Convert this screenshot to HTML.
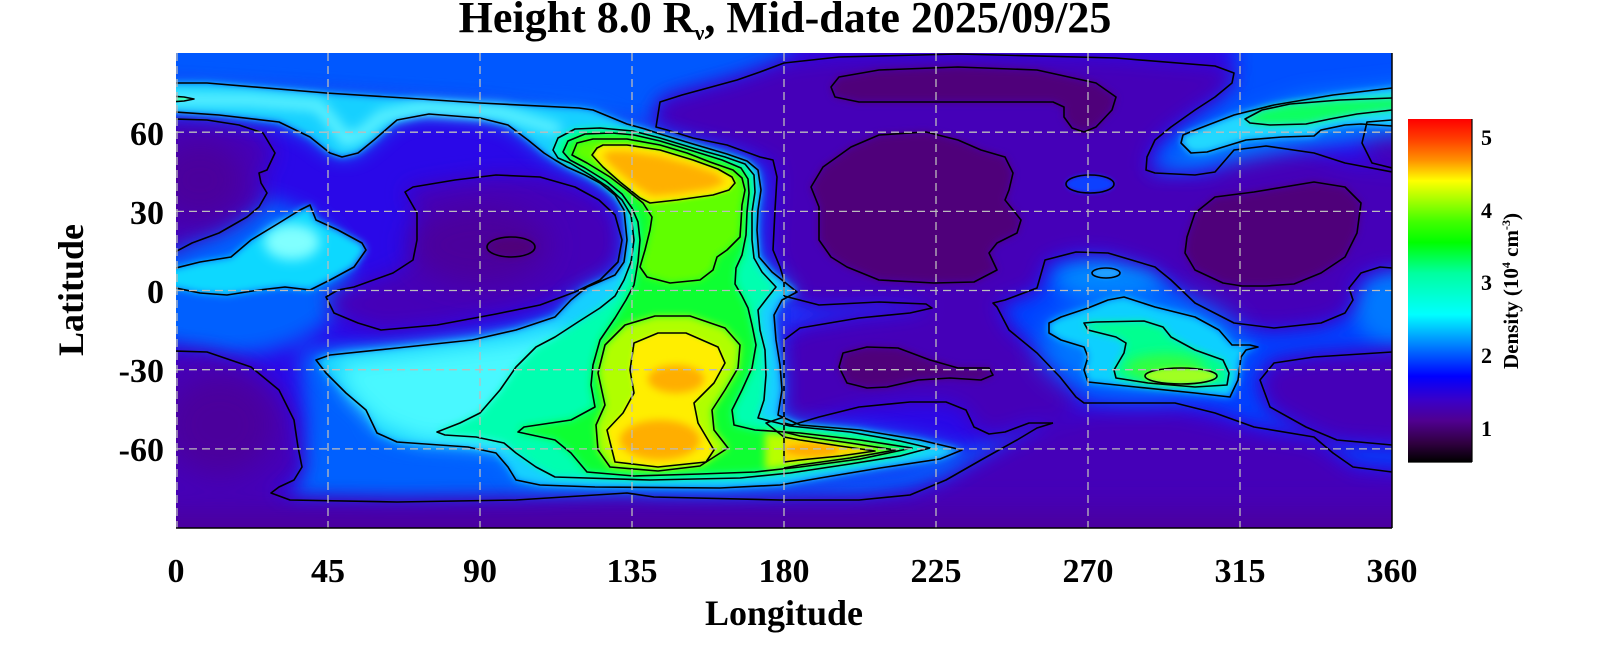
<!DOCTYPE html>
<html><head><meta charset="utf-8"><style>
html,body{margin:0;padding:0;background:#fff;}
svg{display:block;}
text{font-family:"Liberation Serif","DejaVu Serif",serif;font-weight:bold;fill:#000;}
</style></head><body>
<svg width="1600" height="660" viewBox="0 0 1600 660" xmlns="http://www.w3.org/2000/svg">
<defs>
<clipPath id="cp"><rect x="176" y="53" width="1216" height="475"/></clipPath>
<filter id="b2" filterUnits="userSpaceOnUse" x="0" y="0" width="1600" height="660"><feGaussianBlur stdDeviation="2"/></filter>
<filter id="b4" filterUnits="userSpaceOnUse" x="0" y="0" width="1600" height="660"><feGaussianBlur stdDeviation="4"/></filter>
<filter id="b6" filterUnits="userSpaceOnUse" x="0" y="0" width="1600" height="660"><feGaussianBlur stdDeviation="6"/></filter>
<filter id="b10" filterUnits="userSpaceOnUse" x="0" y="0" width="1600" height="660"><feGaussianBlur stdDeviation="10"/></filter>
<filter id="b14" filterUnits="userSpaceOnUse" x="0" y="0" width="1600" height="660"><feGaussianBlur stdDeviation="14"/></filter>
<linearGradient id="cb" x1="0" y1="0" x2="0" y2="1">
<stop offset="0" stop-color="#ff0000"/>
<stop offset="0.06" stop-color="#ff4000"/>
<stop offset="0.12" stop-color="#ff9000"/>
<stop offset="0.18" stop-color="#ffff00"/>
<stop offset="0.24" stop-color="#a0ff00"/>
<stop offset="0.30" stop-color="#40ff00"/>
<stop offset="0.36" stop-color="#00ff00"/>
<stop offset="0.45" stop-color="#00ffa0"/>
<stop offset="0.57" stop-color="#00ffff"/>
<stop offset="0.66" stop-color="#0080ff"/>
<stop offset="0.75" stop-color="#0000ff"/>
<stop offset="0.82" stop-color="#3a00c8"/>
<stop offset="0.88" stop-color="#500090"/>
<stop offset="0.945" stop-color="#300040"/>
<stop offset="1" stop-color="#000000"/>
</linearGradient>
</defs>

<!-- Title -->
<text x="785" y="32" text-anchor="middle" font-size="44">Height 8.0 R<tspan font-size="22" dy="8">ν</tspan><tspan dy="-8">, Mid-date 2025/09/25</tspan></text>

<g clip-path="url(#cp)">
<rect x="176" y="53" width="1216" height="475" fill="#2a08e8"/>

<!-- light blue zones -->
<g filter="url(#b10)">
<polygon fill="#0058ff" points="150,30 800,30 784,63 760,72 737,80 682,95 660,102 656,127 600,118 480,103 326,93 176,83 150,83"/>
<ellipse cx="230" cy="275" rx="120" ry="80" fill="#0060ff"/>
<polygon fill="#0060ff" points="300,350 420,350 600,330 640,480 780,488 900,470 1000,440 1053,423 1000,455 946,485 860,503 780,503 400,505 290,502 300,470 305,420"/>
<polygon fill="#0040ff" points="1037,288 1045,260 1076,252 1108,253 1155,267 1179,282 1195,303 1234,323 1274,328 1321,323 1345,313 1353,300 1361,280 1420,268 1420,350 1314,357 1274,363 1260,380 1270,407 1306,427 1337,440 1420,445 1420,472 1353,467 1333,453 1314,437 1254,427 1215,413 1175,403 1084,403 1076,397 1060,377 1037,353 1009,330 997,307 1005,300"/>
<ellipse cx="1400" cy="305" rx="45" ry="40" fill="#0078ff"/>
<ellipse cx="1110" cy="278" rx="55" ry="20" fill="#0088ff"/>
<polygon fill="#0050ff" points="1234,30 1420,30 1420,125 1340,128 1260,140 1200,160 1160,172 1150,160 1171,127 1215,97 1234,73"/>
<polygon fill="#1838ff" points="784,295 819,305 879,302 926,304 932,308 910,313 859,318 800,328 784,340"/>
</g>

<!-- purple zones -->
<g filter="url(#b10)" fill="#4400b8">
<polygon points="150,119 175,119 207,120 239,125 263,133 275,153 267,170 259,173 261,183 267,193 259,207 247,217 219,233 192,243 175,252 150,252"/>
<polygon points="405,192 413,187 455,180 496,175 540,177 575,187 599,200 615,215 622,240 618,262 600,280 575,292 540,305 496,314 437,325 381,330 358,323 334,313 326,297 338,290 354,287 393,273 413,260 417,240 417,213"/>
<polygon points="656,127 660,102 682,95 737,80 760,72 784,63 839,57 958,54 1116,58 1215,66 1234,73 1232,83 1215,97 1195,110 1171,127 1155,140 1147,157 1146,170 1155,173 1195,175 1215,172 1234,150 1266,146 1314,153 1345,163 1392,172 1420,172 1420,268 1380,267 1361,273 1349,288 1353,300 1345,313 1321,323 1274,328 1234,323 1195,303 1171,280 1155,267 1108,253 1076,252 1045,260 1037,288 1005,300 993,303 997,307 1009,330 1037,353 1060,377 1076,397 1084,403 1053,423 1029,423 1005,432 989,434 974,427 966,410 946,402 910,402 859,407 819,417 792,425 784,423 784,340 800,328 859,318 910,313 932,308 926,304 879,302 819,305 784,296 780,267 773,250 775,210 777,177 773,160 760,157 727,145 693,138 667,130"/>
<polygon points="1392,120 1367,122 1362,143 1372,163 1392,168 1420,168 1420,120"/>
<polygon points="150,351 175,351 207,352 251,367 279,390 294,420 298,447 302,467 294,480 279,487 271,493 290,500 397,502 516,500 627,493 654,497 780,500 859,500 910,495 946,480 981,460 1017,440 1053,425 1090,412 1175,412 1215,420 1254,432 1314,442 1353,470 1420,475 1420,560 150,560"/>
<polygon points="1420,350 1314,357 1274,363 1260,380 1270,407 1306,427 1337,440 1420,445"/>
</g>
<g filter="url(#b14)" fill="#4c009c">
<ellipse cx="200" cy="180" rx="45" ry="40"/>
<ellipse cx="220" cy="425" rx="55" ry="50"/>
<ellipse cx="480" cy="245" rx="70" ry="40"/>
<rect x="150" y="512" width="1300" height="40"/>
</g>

<!-- dark purple -->
<g filter="url(#b4)" fill="#50007a">
<polygon points="831,87 839,77 879,70 958,67 1037,70 1096,83 1116,97 1112,110 1096,127 1084,132 1072,128 1064,117 1064,107 1053,102 997,102 938,102 859,102 835,97"/>
<polygon points="811,187 823,167 851,147 879,135 926,132 958,140 981,150 1005,157 1013,173 1009,190 1005,200 1021,220 1017,233 997,243 989,253 997,270 974,282 934,283 879,280 847,267 831,257 819,240 819,207"/>
<polygon points="1195,213 1215,197 1254,192 1314,182 1345,187 1361,203 1357,233 1345,257 1321,273 1294,284 1266,286 1242,286 1223,283 1195,270 1185,253 1187,237"/>
<polygon points="839,367 843,353 867,347 898,348 930,360 958,368 989,368 993,375 981,380 950,378 918,380 887,387 867,388 847,383"/>
<ellipse cx="511" cy="247" rx="24" ry="10"/>
</g>
<ellipse cx="1090" cy="184" rx="24" ry="9" fill="#1040ff" filter="url(#b2)"/>

<!-- bright regions -->
<polygon fill="#0080ff" opacity="0.9" filter="url(#b10)" points="150,83 176,83 207,83 326,93 420,99 480,103 579,108 593,110 610,117 627,124 645,129 660,134 693,144 727,154 747,161 758,170 761,190 758,210 757,230 759,257 772,272 797,292 782,300 774,315 776,340 780,365 782,390 778,415 800,425 860,430 920,440 962,450 940,459 880,468 820,478 780,485 720,488 595,487 540,485 516,480 508,467 496,453 468,447 397,442 377,433 366,410 346,393 326,373 316,360 330,355 397,348 472,340 516,330 555,317 571,300 587,287 599,282 615,275 624,262 627,240 624,210 615,195 600,183 585,175 567,167 555,160 544,153 528,140 508,125 480,118 429,114 397,120 374,140 358,153 342,157 330,153 310,137 279,122 219,115 175,112 150,112"/>
<polygon fill="#18d0ff" filter="url(#b4)" points="150,83 176,83 207,83 326,93 420,99 480,103 579,108 593,110 610,117 627,124 645,129 660,134 693,144 727,154 747,161 758,170 761,190 758,210 757,230 759,257 772,272 797,292 782,300 774,315 776,340 780,365 782,390 778,415 800,425 860,430 920,440 962,450 940,459 880,468 820,478 780,485 720,488 595,487 540,485 516,480 508,467 496,453 468,447 397,442 377,433 366,410 346,393 326,373 316,360 330,355 397,348 472,340 516,330 555,317 571,300 587,287 599,282 615,275 624,262 627,240 624,210 615,195 600,183 585,175 567,167 555,160 544,153 528,140 508,125 480,118 429,114 397,120 374,140 358,153 342,157 330,153 310,137 279,122 219,115 175,112 150,112"/>
<polyline fill="none" stroke="#60f4ff" stroke-width="12" filter="url(#b6)" points="150,99 250,100 318,105 335,125 346,140 362,134 382,116 420,108 500,112 560,130"/>
<polygon fill="#48f8ff" filter="url(#b10)" points="335,362 420,352 520,340 565,330 575,370 560,420 510,445 420,440 380,425 350,395"/>

<polygon fill="#00ffb0" filter="url(#b4)" points="553,150 558,138 575,129 600,128 633,131 660,138 693,148 725,157 745,164 754,175 755,192 752,212 752,240 754,258 762,272 776,287 768,297 758,310 760,330 765,350 766,375 764,400 758,418 790,426 850,432 900,441 930,448 900,456 850,464 790,473 740,478 650,480 555,477 536,467 516,453 504,443 476,437 445,435 437,432 460,423 480,413 500,390 516,367 536,347 555,337 578,322 600,308 615,296 624,280 631,262 634,240 631,215 622,200 608,187 590,175 570,163 558,158"/>
<polygon fill="#10ff30" filter="url(#b4)" points="563,152 568,141 585,134 612,133 634,135 660,141 693,151 722,160 741,168 748,179 749,193 747,212 746,235 742,255 736,268 735,284 742,296 748,308 752,325 756,345 752,368 742,390 732,410 734,425 755,430 800,433 860,440 912,448 860,459 800,467 755,472 700,474 634,476 587,472 571,453 555,440 518,432 524,427 571,420 595,407 591,385 593,365 600,340 615,318 626,300 634,285 638,262 640,240 638,222 632,208 622,194 606,181 585,168 570,160"/>
<polygon fill="#60ff00" filter="url(#b4)" points="572,155 577,143 593,139 627,139 660,145 687,153 710,162 733,170 742,178 745,190 742,205 741,222 740,237 727,250 717,257 713,270 700,280 670,283 647,277 640,267 645,250 650,230 652,217 643,203 627,190 610,177 587,163"/>
<polygon fill="#b0ff00" filter="url(#b4)" points="598,373 605,345 625,325 655,316 690,316 725,328 740,345 738,368 725,390 712,410 714,430 728,448 700,466 658,471 610,467 598,450 596,425 605,405"/>
<polygon fill="#b8ff00" filter="url(#b4)" points="765,432 800,436 850,443 895,450 850,458 800,465 765,470"/>
<polygon fill="#ffee00" filter="url(#b2)" points="592,155 597,148 603,145 627,145 660,150 693,160 718,169 732,177 735,183 729,190 713,195 677,200 650,203 640,198 620,182 603,167"/>
<polygon fill="#ffb000" filter="url(#b4)" points="602,156 609,151 627,151 660,156 693,165 716,173 726,182 710,189 677,194 652,196 638,188 616,170"/>
<polygon fill="#ffee00" filter="url(#b2)" points="630,370 634,343 658,333 686,333 718,347 725,363 714,383 694,403 698,423 714,450 706,462 658,467 615,462 607,430 623,413 634,393"/>
<ellipse cx="676" cy="379" rx="28" ry="14" fill="#ffae00" filter="url(#b4)"/>
<ellipse cx="660" cy="440" rx="40" ry="20" fill="#ffae00" filter="url(#b4)"/>
<polygon fill="#ffd000" filter="url(#b2)" points="784,437 800,440 840,446 875,451 840,456 800,460 784,462"/>
<ellipse cx="812" cy="450" rx="26" ry="6" fill="#ffae00" filter="url(#b2)"/>

<!-- left cyan blob -->
<polygon fill="#10d8ff" filter="url(#b4)" points="150,268 176,268 200,262 231,257 251,240 279,223 300,210 310,205 316,220 338,230 362,243 366,250 354,267 330,280 310,290 285,287 259,290 227,295 200,293 176,288 150,288"/>
<ellipse cx="292" cy="242" rx="28" ry="18" fill="#80ffff" filter="url(#b6)"/>
<polygon fill="#40ffc0" points="170,96 184,97 194,99 184,101 170,102"/>

<!-- right green blob -->
<ellipse cx="1140" cy="345" rx="100" ry="50" fill="#0078ff" filter="url(#b14)"/>
<polygon fill="#10d0ff" filter="url(#b4)" points="1049,323 1061,317 1088,308 1108,300 1124,297 1155,307 1195,317 1219,330 1232,345 1250,345 1258,347 1246,350 1241,357 1238,380 1230,397 1195,393 1136,387 1088,382 1084,370 1088,357 1084,347 1061,340 1049,333"/>
<polygon fill="#00ff90" filter="url(#b4)" points="1084,323 1096,322 1144,321 1163,327 1171,337 1195,350 1223,360 1229,373 1227,385 1195,387 1148,383 1116,378 1114,370 1124,353 1126,343 1116,337 1088,330"/>
<ellipse cx="1165" cy="368" rx="40" ry="14" fill="#30ff40" filter="url(#b6)"/>
<ellipse cx="1181" cy="376" rx="36" ry="8" fill="#a0ff20" filter="url(#b2)"/>
<ellipse cx="1106" cy="273" rx="14" ry="5" fill="#20a0ff" filter="url(#b2)"/>

<!-- upper right streak -->
<polygon fill="#0078ff" filter="url(#b10)" points="1150,170 1224,122 1300,95 1420,82 1420,132 1300,148 1200,168"/>
<polygon fill="#20d8ff" filter="url(#b4)" points="1181,143 1183,135 1195,130 1234,115 1274,105 1333,95 1392,88 1420,88 1420,126 1392,126 1361,124 1345,125 1321,130 1314,136 1282,137 1246,140 1207,152 1191,153"/>
<polygon fill="#10ff60" filter="url(#b4)" points="1245,119 1262,110 1290,104 1340,100 1392,98 1420,98 1420,110 1392,110 1357,114 1330,119 1306,124 1270,125 1250,123"/>

<!-- contour lines -->
<g fill="none" stroke="#000" stroke-width="1.6" stroke-linejoin="round">
<polygon points="150,83 176,83 207,83 326,93 420,99 480,103 579,108 593,110 610,117 627,124 645,129 660,134 693,144 727,154 747,161 758,170 761,190 758,210 757,230 759,257 772,272 797,292 782,300 774,315 776,340 780,365 782,390 778,415 800,425 860,430 920,440 962,450 940,459 880,468 820,478 780,485 720,488 595,487 540,485 516,480 508,467 496,453 468,447 397,442 377,433 366,410 346,393 326,373 316,360 330,355 397,348 472,340 516,330 555,317 571,300 587,287 599,282 615,275 624,262 627,240 624,210 615,195 600,183 585,175 567,167 555,160 544,153 528,140 508,125 480,118 429,114 397,120 374,140 358,153 342,157 330,153 310,137 279,122 219,115 175,112 150,112"/>
<polygon points="553,150 558,138 575,129 600,128 633,131 660,138 693,148 725,157 745,164 754,175 755,192 752,212 752,240 754,258 762,272 776,287 768,297 758,310 760,330 765,350 766,375 764,400 758,418 790,426 850,432 900,441 930,448 900,456 850,464 790,473 740,478 650,480 555,477 536,467 516,453 504,443 476,437 445,435 437,432 460,423 480,413 500,390 516,367 536,347 555,337 578,322 600,308 615,296 624,280 631,262 634,240 631,215 622,200 608,187 590,175 570,163 558,158"/>
<polygon points="563,152 568,141 585,134 612,133 634,135 660,141 693,151 722,160 741,168 748,179 749,193 747,212 746,235 742,255 736,268 735,284 742,296 748,308 752,325 756,345 752,368 742,390 732,410 734,425 755,430 800,433 860,440 912,448 860,459 800,467 755,472 700,474 634,476 587,472 571,453 555,440 518,432 524,427 571,420 595,407 591,385 593,365 600,340 615,318 626,300 634,285 638,262 640,240 638,222 632,208 622,194 606,181 585,168 570,160"/>
<polygon points="572,155 577,143 593,139 627,139 660,145 687,153 710,162 733,170 742,178 745,190 742,205 741,222 740,237 727,250 717,257 713,270 700,280 670,283 647,277 640,267 645,250 650,230 652,217 643,203 627,190 610,177 587,163"/>
<polygon points="598,373 605,345 625,325 655,316 690,316 725,328 740,345 738,368 725,390 712,410 714,430 728,448 700,466 658,471 610,467 598,450 596,425 605,405"/>
<polygon points="592,155 597,148 603,145 627,145 660,150 693,160 718,169 732,177 735,183 729,190 713,195 677,200 650,203 640,198 620,182 603,167"/>
<polygon points="630,370 634,343 658,333 686,333 718,347 725,363 714,383 694,403 698,423 714,450 706,462 658,467 615,462 607,430 623,413 634,393"/>
<polyline points="784,432 800,436 850,443 895,450 850,458 800,465 784,468"/>
<polyline points="784,437 800,440 840,446 875,451 840,456 800,460 784,462 784,437"/>
<polygon points="766,423 784,417 784,437"/>
<polygon points="150,119 175,119 207,120 239,125 263,133 275,153 267,170 259,173 261,183 267,193 259,207 247,217 219,233 192,243 175,252 150,252"/>
<polygon points="405,192 413,187 455,180 496,175 540,177 575,187 599,200 615,215 622,240 618,262 600,280 575,292 540,305 496,314 437,325 381,330 358,323 334,313 326,297 338,290 354,287 393,273 413,260 417,240 417,213"/>
<ellipse cx="511" cy="247" rx="24" ry="10"/>
<polyline points="1053,423 1029,423 1005,432 989,434 974,427 966,410 946,402 910,402 859,407 819,417 792,425 784,423 784,340"/>
<polyline points="784,296 784,280 780,267 773,250 775,210 777,177 773,160 760,157 727,145 693,138 667,130 656,127 660,102 682,95 737,80 760,72 784,63 839,57 958,54 1116,58 1215,66 1234,73 1232,83 1215,97 1195,110 1171,127 1155,140 1147,157 1146,170 1155,173 1195,175 1215,172 1234,150 1266,146 1314,153 1345,163 1392,172"/>
<polyline points="784,296 819,305 879,302 926,304 932,308 910,313 859,318 800,328 784,340"/>
<polyline points="1392,268 1380,267 1361,273 1349,288 1353,300 1345,313 1321,323 1274,328 1234,323 1195,303 1171,280 1155,267 1108,253 1076,252 1045,260 1037,288 1005,300 993,303 997,307 1009,330 1037,353 1060,377 1076,397 1084,403 1175,403 1215,413 1254,427 1314,437 1333,453 1353,467 1392,472"/>
<polyline points="175,351 207,352 251,367 279,390 294,420 298,447 302,467 294,480 279,487 271,493 290,500 397,502 516,500 627,493 654,497 780,500 859,500 910,495 946,480 981,460 1017,440 1037,428 1053,423"/>
<polyline points="1392,352 1314,357 1274,363 1260,380 1270,407 1306,427 1337,440 1392,445"/>
<polyline points="1392,120 1367,122 1362,143 1372,163 1392,168"/>
<polygon points="831,87 839,77 879,70 958,67 1037,70 1096,83 1116,97 1112,110 1096,127 1084,132 1072,128 1064,117 1064,107 1053,102 997,102 938,102 859,102 835,97"/>
<polygon points="811,187 823,167 851,147 879,135 926,132 958,140 981,150 1005,157 1013,173 1009,190 1005,200 1021,220 1017,233 997,243 989,253 997,270 974,282 934,283 879,280 847,267 831,257 819,240 819,207"/>
<polygon points="1195,213 1215,197 1254,192 1314,182 1345,187 1361,203 1357,233 1345,257 1321,273 1294,284 1266,286 1242,286 1223,283 1195,270 1185,253 1187,237"/>
<polygon points="839,367 843,353 867,347 898,348 930,360 958,368 989,368 993,375 981,380 950,378 918,380 887,387 867,388 847,383"/>
<ellipse cx="1090" cy="184" rx="24" ry="9"/>
<ellipse cx="1106" cy="273" rx="14" ry="5"/>
<polygon points="150,268 176,268 200,262 231,257 251,240 279,223 300,210 310,205 316,220 338,230 362,243 366,250 354,267 330,280 310,290 285,287 259,290 227,295 200,293 176,288 150,288"/>
<polygon points="170,96 184,97 194,99 184,101 170,102"/>
<polygon points="1049,323 1061,317 1088,308 1108,300 1124,297 1155,307 1195,317 1219,330 1232,345 1250,345 1258,347 1246,350 1241,357 1238,380 1230,397 1195,393 1136,387 1088,382 1084,370 1088,357 1084,347 1061,340 1049,333"/>
<polygon points="1084,323 1096,322 1144,321 1163,327 1171,337 1195,350 1223,360 1229,373 1227,385 1195,387 1148,383 1116,378 1114,370 1124,353 1126,343 1116,337 1088,330"/>
<ellipse cx="1181" cy="376" rx="36" ry="8"/>
<polygon points="1181,143 1183,135 1195,130 1234,115 1274,105 1333,95 1392,88 1420,88 1420,126 1392,126 1361,124 1345,125 1321,130 1314,136 1282,137 1246,140 1207,152 1191,153"/>
<polygon points="1245,119 1262,110 1290,104 1340,100 1392,98 1420,98 1420,110 1392,110 1357,114 1330,119 1306,124 1270,125 1250,123"/>
</g>

<!-- grid -->
<g stroke="#bcbcbc" stroke-width="1.3" stroke-dasharray="8,5" fill="none">
<line x1="177" y1="53" x2="177" y2="528"/>
<line x1="328" y1="53" x2="328" y2="528"/>
<line x1="480" y1="53" x2="480" y2="528"/>
<line x1="632" y1="53" x2="632" y2="528"/>
<line x1="784" y1="53" x2="784" y2="528"/>
<line x1="936" y1="53" x2="936" y2="528"/>
<line x1="1088" y1="53" x2="1088" y2="528"/>
<line x1="1240" y1="53" x2="1240" y2="528"/>
<line x1="176" y1="132.2" x2="1392" y2="132.2"/>
<line x1="176" y1="211.4" x2="1392" y2="211.4"/>
<line x1="176" y1="290.5" x2="1392" y2="290.5"/>
<line x1="176" y1="369.7" x2="1392" y2="369.7"/>
<line x1="176" y1="448.9" x2="1392" y2="448.9"/>
</g>
</g>
<line x1="176" y1="528" x2="1392" y2="528" stroke="#000" stroke-width="1.5"/>
<line x1="1392" y1="53" x2="1392" y2="528" stroke="#000" stroke-width="1.5"/>

<!-- x ticks -->
<g font-size="34" text-anchor="middle">
<text x="176" y="582">0</text>
<text x="328" y="582">45</text>
<text x="480" y="582">90</text>
<text x="632" y="582">135</text>
<text x="784" y="582">180</text>
<text x="936" y="582">225</text>
<text x="1088" y="582">270</text>
<text x="1240" y="582">315</text>
<text x="1392" y="582">360</text>
</g>
<text x="784" y="625" font-size="36" text-anchor="middle">Longitude</text>

<!-- y ticks -->
<g font-size="34" text-anchor="end">
<text x="164" y="145">60</text>
<text x="164" y="224">30</text>
<text x="164" y="303">0</text>
<text x="164" y="382">-30</text>
<text x="164" y="461">-60</text>
</g>
<text transform="translate(83,290) rotate(-90)" font-size="36" text-anchor="middle">Latitude</text>

<!-- colorbar -->
<rect x="1408" y="119" width="64" height="343" fill="url(#cb)"/>
<line x1="1472" y1="119" x2="1472" y2="462" stroke="#000" stroke-width="1.2"/>
<line x1="1408" y1="462" x2="1472" y2="462" stroke="#000" stroke-width="1.2"/>
<g font-size="22">
<text x="1481" y="145">5</text>
<text x="1481" y="218">4</text>
<text x="1481" y="290">3</text>
<text x="1481" y="363">2</text>
<text x="1481" y="436">1</text>
</g>
<text transform="translate(1518,291) rotate(-90)" font-size="21" text-anchor="middle">Density (10<tspan dy="-8" font-size="12">4</tspan><tspan dy="8"> cm</tspan><tspan dy="-8" font-size="12">-3</tspan><tspan dy="8">)</tspan></text>
</svg>
</body></html>
